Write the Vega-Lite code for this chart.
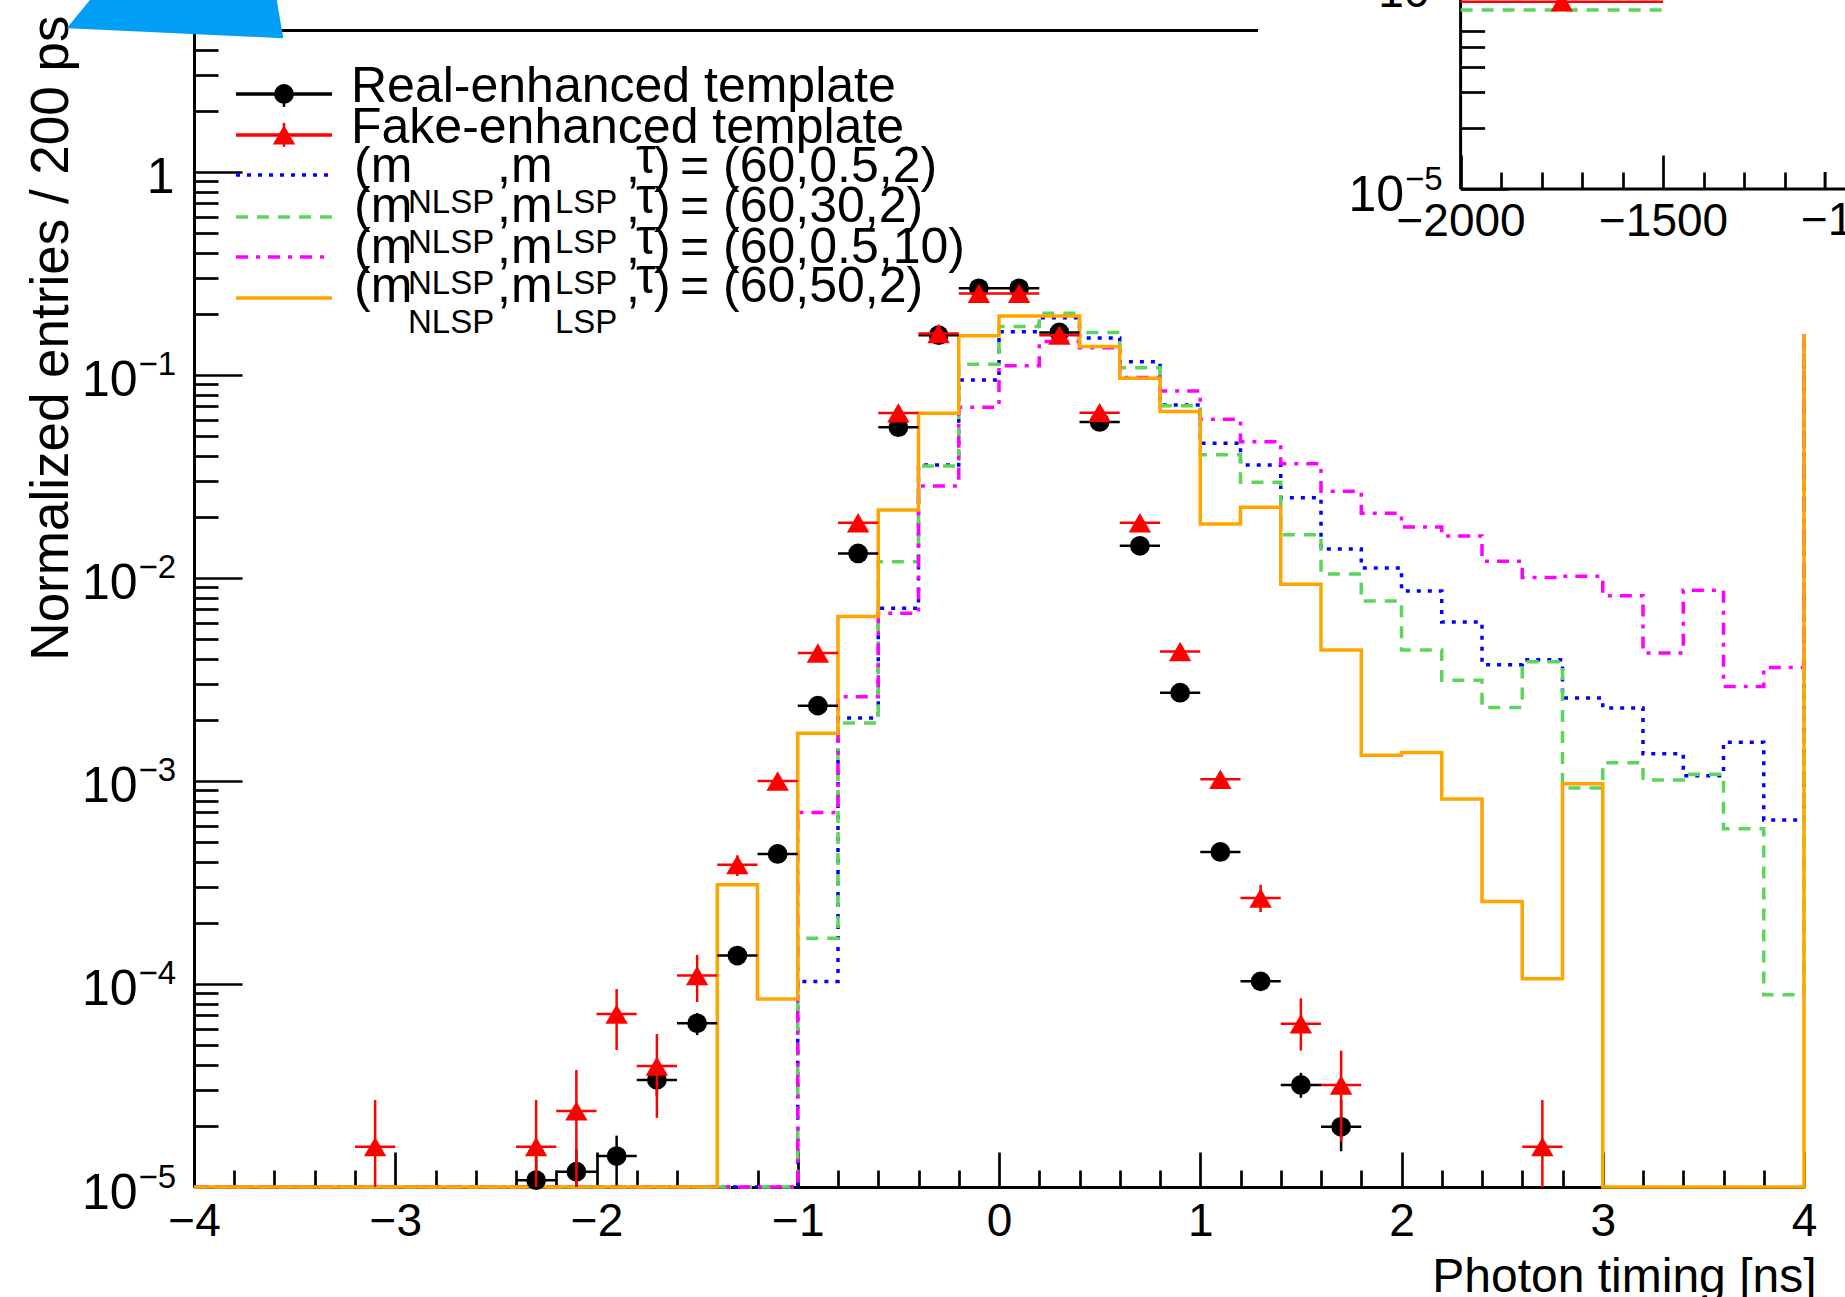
{
 "$schema": "https://vega.github.io/schema/vega-lite/v6.json",
 "width": 1610, "height": 1157,
 "autosize": "none",
 "padding": {"left": 194, "top": 30, "right": 41, "bottom": 110},
 "background": "white",
 "config": {
  "view": {"stroke": null},
  "font": "Liberation Sans",
  "axis": {"grid": false, "labelFont": "Liberation Sans", "titleFont": "Liberation Sans", "labelColor": "black", "titleColor": "black", "tickColor": "black", "domainColor": "black", "titleFontWeight": "normal", "tickWidth": 2.7, "domainWidth": 3, "labelFlush": false, "labelOverlap": false, "labelBound": false, "tickCount": 200}
 },
 "datasets": {
  "hist": [
   {"s":"(60,0.5,2)","x":-4,"v":1e-5},{"s":"(60,0.5,2)","x":-3.8,"v":1e-5},{"s":"(60,0.5,2)","x":-3.6,"v":1e-5},{"s":"(60,0.5,2)","x":-3.4,"v":1e-5},{"s":"(60,0.5,2)","x":-3.2,"v":1e-5},{"s":"(60,0.5,2)","x":-3,"v":1e-5},{"s":"(60,0.5,2)","x":-2.8,"v":1e-5},{"s":"(60,0.5,2)","x":-2.6,"v":1e-5},{"s":"(60,0.5,2)","x":-2.4,"v":1e-5},{"s":"(60,0.5,2)","x":-2.2,"v":1e-5},{"s":"(60,0.5,2)","x":-2,"v":1e-5},{"s":"(60,0.5,2)","x":-1.8,"v":1e-5},{"s":"(60,0.5,2)","x":-1.6,"v":1e-5},{"s":"(60,0.5,2)","x":-1.4,"v":1e-5},{"s":"(60,0.5,2)","x":-1.2,"v":1e-5},
   {"s":"(60,0.5,2)","x":-1,"v":0.000103},{"s":"(60,0.5,2)","x":-0.8,"v":0.00204},{"s":"(60,0.5,2)","x":-0.6,"v":0.0071},{"s":"(60,0.5,2)","x":-0.4,"v":0.036},{"s":"(60,0.5,2)","x":-0.2,"v":0.0945},{"s":"(60,0.5,2)","x":0,"v":0.163},{"s":"(60,0.5,2)","x":0.2,"v":0.191},{"s":"(60,0.5,2)","x":0.4,"v":0.152},{"s":"(60,0.5,2)","x":0.6,"v":0.116},{"s":"(60,0.5,2)","x":0.8,"v":0.0711},{"s":"(60,0.5,2)","x":1,"v":0.0461},{"s":"(60,0.5,2)","x":1.2,"v":0.036},{"s":"(60,0.5,2)","x":1.4,"v":0.0248},{"s":"(60,0.5,2)","x":1.6,"v":0.0139},{"s":"(60,0.5,2)","x":1.8,"v":0.0112},{"s":"(60,0.5,2)","x":2,"v":0.00863},{"s":"(60,0.5,2)","x":2.2,"v":0.00607},{"s":"(60,0.5,2)","x":2.4,"v":0.00374},{"s":"(60,0.5,2)","x":2.6,"v":0.00395},{"s":"(60,0.5,2)","x":2.8,"v":0.00256},{"s":"(60,0.5,2)","x":3,"v":0.00229},{"s":"(60,0.5,2)","x":3.2,"v":0.00136},{"s":"(60,0.5,2)","x":3.4,"v":0.00106},{"s":"(60,0.5,2)","x":3.6,"v":0.00155},{"s":"(60,0.5,2)","x":3.8,"v":0.000643},{"s":"(60,0.5,2)","x":4,"v":0.159},
   {"s":"(60,30,2)","x":-4,"v":1e-5},{"s":"(60,30,2)","x":-3.8,"v":1e-5},{"s":"(60,30,2)","x":-3.6,"v":1e-5},{"s":"(60,30,2)","x":-3.4,"v":1e-5},{"s":"(60,30,2)","x":-3.2,"v":1e-5},{"s":"(60,30,2)","x":-3,"v":1e-5},{"s":"(60,30,2)","x":-2.8,"v":1e-5},{"s":"(60,30,2)","x":-2.6,"v":1e-5},{"s":"(60,30,2)","x":-2.4,"v":1e-5},{"s":"(60,30,2)","x":-2.2,"v":1e-5},{"s":"(60,30,2)","x":-2,"v":1e-5},{"s":"(60,30,2)","x":-1.8,"v":1e-5},{"s":"(60,30,2)","x":-1.6,"v":1e-5},{"s":"(60,30,2)","x":-1.4,"v":1e-5},{"s":"(60,30,2)","x":-1.2,"v":1e-5},
   {"s":"(60,30,2)","x":-1,"v":0.000168},{"s":"(60,30,2)","x":-0.8,"v":0.00193},{"s":"(60,30,2)","x":-0.6,"v":0.012},{"s":"(60,30,2)","x":-0.4,"v":0.0356},{"s":"(60,30,2)","x":-0.2,"v":0.113},{"s":"(60,30,2)","x":0,"v":0.173},{"s":"(60,30,2)","x":0.2,"v":0.201},{"s":"(60,30,2)","x":0.4,"v":0.162},{"s":"(60,30,2)","x":0.6,"v":0.1086},{"s":"(60,30,2)","x":0.8,"v":0.0704},{"s":"(60,30,2)","x":1,"v":0.0404},{"s":"(60,30,2)","x":1.2,"v":0.0296},{"s":"(60,30,2)","x":1.4,"v":0.0163},{"s":"(60,30,2)","x":1.6,"v":0.01047},{"s":"(60,30,2)","x":1.8,"v":0.0077},{"s":"(60,30,2)","x":2,"v":0.00442},{"s":"(60,30,2)","x":2.2,"v":0.00313},{"s":"(60,30,2)","x":2.4,"v":0.0023},{"s":"(60,30,2)","x":2.6,"v":0.00386},{"s":"(60,30,2)","x":2.8,"v":0.000924},{"s":"(60,30,2)","x":3,"v":0.00123},{"s":"(60,30,2)","x":3.2,"v":0.00101},{"s":"(60,30,2)","x":3.4,"v":0.00108},{"s":"(60,30,2)","x":3.6,"v":0.000582},{"s":"(60,30,2)","x":3.8,"v":0.0000886},{"s":"(60,30,2)","x":4,"v":0.159},
   {"s":"(60,0.5,10)","x":-4,"v":1e-5},{"s":"(60,0.5,10)","x":-3.8,"v":1e-5},{"s":"(60,0.5,10)","x":-3.6,"v":1e-5},{"s":"(60,0.5,10)","x":-3.4,"v":1e-5},{"s":"(60,0.5,10)","x":-3.2,"v":1e-5},{"s":"(60,0.5,10)","x":-3,"v":1e-5},{"s":"(60,0.5,10)","x":-2.8,"v":1e-5},{"s":"(60,0.5,10)","x":-2.6,"v":1e-5},{"s":"(60,0.5,10)","x":-2.4,"v":1e-5},{"s":"(60,0.5,10)","x":-2.2,"v":1e-5},{"s":"(60,0.5,10)","x":-2,"v":1e-5},{"s":"(60,0.5,10)","x":-1.8,"v":1e-5},{"s":"(60,0.5,10)","x":-1.6,"v":1e-5},{"s":"(60,0.5,10)","x":-1.4,"v":1e-5},{"s":"(60,0.5,10)","x":-1.2,"v":1e-5},
   {"s":"(60,0.5,10)","x":-1,"v":0.0007},{"s":"(60,0.5,10)","x":-0.8,"v":0.0026},{"s":"(60,0.5,10)","x":-0.6,"v":0.0067},{"s":"(60,0.5,10)","x":-0.4,"v":0.0284},{"s":"(60,0.5,10)","x":-0.2,"v":0.0693},{"s":"(60,0.5,10)","x":0,"v":0.111},{"s":"(60,0.5,10)","x":0.2,"v":0.146},{"s":"(60,0.5,10)","x":0.4,"v":0.136},{"s":"(60,0.5,10)","x":0.6,"v":0.097},{"s":"(60,0.5,10)","x":0.8,"v":0.0834},{"s":"(60,0.5,10)","x":1,"v":0.0605},{"s":"(60,0.5,10)","x":1.2,"v":0.0469},{"s":"(60,0.5,10)","x":1.4,"v":0.0365},{"s":"(60,0.5,10)","x":1.6,"v":0.0267},{"s":"(60,0.5,10)","x":1.8,"v":0.0208},{"s":"(60,0.5,10)","x":2,"v":0.0178},{"s":"(60,0.5,10)","x":2.2,"v":0.0161},{"s":"(60,0.5,10)","x":2.4,"v":0.0121},{"s":"(60,0.5,10)","x":2.6,"v":0.01005},{"s":"(60,0.5,10)","x":2.8,"v":0.0102},{"s":"(60,0.5,10)","x":3,"v":0.00818},{"s":"(60,0.5,10)","x":3.2,"v":0.00427},{"s":"(60,0.5,10)","x":3.4,"v":0.00869},{"s":"(60,0.5,10)","x":3.6,"v":0.00292},{"s":"(60,0.5,10)","x":3.8,"v":0.00362},{"s":"(60,0.5,10)","x":4,"v":0.159},
   {"s":"(60,50,2)","x":-4,"v":1e-5},{"s":"(60,50,2)","x":-3.8,"v":1e-5},{"s":"(60,50,2)","x":-3.6,"v":1e-5},{"s":"(60,50,2)","x":-3.4,"v":1e-5},{"s":"(60,50,2)","x":-3.2,"v":1e-5},{"s":"(60,50,2)","x":-3,"v":1e-5},{"s":"(60,50,2)","x":-2.8,"v":1e-5},{"s":"(60,50,2)","x":-2.6,"v":1e-5},{"s":"(60,50,2)","x":-2.4,"v":1e-5},{"s":"(60,50,2)","x":-2.2,"v":1e-5},{"s":"(60,50,2)","x":-2,"v":1e-5},{"s":"(60,50,2)","x":-1.8,"v":1e-5},{"s":"(60,50,2)","x":-1.6,"v":1e-5},
   {"s":"(60,50,2)","x":-1.4,"v":0.000308},{"s":"(60,50,2)","x":-1.2,"v":0.0000843},{"s":"(60,50,2)","x":-1,"v":0.00172},{"s":"(60,50,2)","x":-0.8,"v":0.00645},{"s":"(60,50,2)","x":-0.6,"v":0.0216},{"s":"(60,50,2)","x":-0.4,"v":0.0648},{"s":"(60,50,2)","x":-0.2,"v":0.156},{"s":"(60,50,2)","x":0,"v":0.195},{"s":"(60,50,2)","x":0.2,"v":0.195},{"s":"(60,50,2)","x":0.4,"v":0.138},{"s":"(60,50,2)","x":0.6,"v":0.0964},{"s":"(60,50,2)","x":0.8,"v":0.066},{"s":"(60,50,2)","x":1,"v":0.01845},{"s":"(60,50,2)","x":1.2,"v":0.0223},{"s":"(60,50,2)","x":1.4,"v":0.00931},{"s":"(60,50,2)","x":1.6,"v":0.00442},{"s":"(60,50,2)","x":1.8,"v":0.00134},{"s":"(60,50,2)","x":2,"v":0.00138},{"s":"(60,50,2)","x":2.2,"v":0.000815},{"s":"(60,50,2)","x":2.4,"v":0.000255},{"s":"(60,50,2)","x":2.6,"v":0.000106},{"s":"(60,50,2)","x":2.8,"v":0.00097},
   {"s":"(60,50,2)","x":3,"v":1e-5},{"s":"(60,50,2)","x":3.2,"v":1e-5},{"s":"(60,50,2)","x":3.4,"v":1e-5},{"s":"(60,50,2)","x":3.6,"v":1e-5},{"s":"(60,50,2)","x":3.8,"v":1e-5},{"s":"(60,50,2)","x":4,"v":0.159}
  ],
  "real": [
   {"t":-2.3,"x0":-2.4,"x1":-2.2,"v":0.0000108,"lo":0.0000075,"hi":0.0000142},
   {"t":-2.1,"x0":-2.2,"x1":-2.0,"v":0.0000119,"lo":0.0000085,"hi":0.0000153},
   {"t":-1.9,"x0":-2.0,"x1":-1.8,"v":0.0000142,"lo":0.0000102,"hi":0.0000179},
   {"t":-1.7,"x0":-1.8,"x1":-1.6,"v":0.0000337,"lo":0.000028,"hi":0.0000395},
   {"t":-1.5,"x0":-1.6,"x1":-1.4,"v":0.000064,"lo":0.000056,"hi":0.000072},
   {"t":-1.3,"x0":-1.4,"x1":-1.2,"v":0.000138,"lo":0.000138,"hi":0.000138},
   {"t":-1.1,"x0":-1.2,"x1":-1.0,"v":0.000437,"lo":0.000437,"hi":0.000437},
   {"t":-0.9,"x0":-1.0,"x1":-0.8,"v":0.00235,"lo":0.00235,"hi":0.00235},
   {"t":-0.7,"x0":-0.8,"x1":-0.6,"v":0.0132,"lo":0.0132,"hi":0.0132},
   {"t":-0.5,"x0":-0.6,"x1":-0.4,"v":0.0553,"lo":0.0553,"hi":0.0553},
   {"t":-0.3,"x0":-0.4,"x1":-0.2,"v":0.157,"lo":0.157,"hi":0.157},
   {"t":-0.1,"x0":-0.2,"x1":0.0,"v":0.267,"lo":0.267,"hi":0.267},
   {"t":0.1,"x0":0.0,"x1":0.2,"v":0.267,"lo":0.267,"hi":0.267},
   {"t":0.3,"x0":0.2,"x1":0.4,"v":0.162,"lo":0.162,"hi":0.162},
   {"t":0.5,"x0":0.4,"x1":0.6,"v":0.0587,"lo":0.0587,"hi":0.0587},
   {"t":0.7,"x0":0.6,"x1":0.8,"v":0.0144,"lo":0.0144,"hi":0.0144},
   {"t":0.9,"x0":0.8,"x1":1.0,"v":0.00272,"lo":0.00272,"hi":0.00272},
   {"t":1.1,"x0":1.0,"x1":1.2,"v":0.000447,"lo":0.000447,"hi":0.000447},
   {"t":1.3,"x0":1.2,"x1":1.4,"v":0.000103,"lo":0.000103,"hi":0.000103},
   {"t":1.5,"x0":1.4,"x1":1.6,"v":0.0000318,"lo":0.0000275,"hi":0.0000365},
   {"t":1.7,"x0":1.6,"x1":1.8,"v":0.0000198,"lo":0.000015,"hi":0.000027}
  ],
  "fake": [
   {"t":-3.1,"x0":-3.2,"x1":-3.0,"v":0.0000158,"lo":0.000005,"hi":0.0000268},
   {"t":-2.3,"x0":-2.4,"x1":-2.2,"v":0.0000158,"lo":0.000005,"hi":0.0000268},
   {"t":-2.1,"x0":-2.2,"x1":-2.0,"v":0.0000237,"lo":0.000009,"hi":0.0000377},
   {"t":-1.9,"x0":-2.0,"x1":-1.8,"v":0.0000711,"lo":0.0000473,"hi":0.0000944},
   {"t":-1.7,"x0":-1.8,"x1":-1.6,"v":0.0000394,"lo":0.0000219,"hi":0.0000567},
   {"t":-1.5,"x0":-1.6,"x1":-1.4,"v":0.00011,"lo":0.0000815,"hi":0.000139},
   {"t":-1.3,"x0":-1.4,"x1":-1.2,"v":0.000387,"lo":0.00034,"hi":0.00043},
   {"t":-1.1,"x0":-1.2,"x1":-1.0,"v":0.001,"lo":0.001,"hi":0.001},
   {"t":-0.9,"x0":-1.0,"x1":-0.8,"v":0.00427,"lo":0.00427,"hi":0.00427},
   {"t":-0.7,"x0":-0.8,"x1":-0.6,"v":0.0187,"lo":0.0187,"hi":0.0187},
   {"t":-0.5,"x0":-0.6,"x1":-0.4,"v":0.065,"lo":0.065,"hi":0.065},
   {"t":-0.3,"x0":-0.4,"x1":-0.2,"v":0.16,"lo":0.16,"hi":0.16},
   {"t":-0.1,"x0":-0.2,"x1":0.0,"v":0.252,"lo":0.252,"hi":0.252},
   {"t":0.1,"x0":0.0,"x1":0.2,"v":0.252,"lo":0.252,"hi":0.252},
   {"t":0.3,"x0":0.2,"x1":0.4,"v":0.157,"lo":0.157,"hi":0.157},
   {"t":0.5,"x0":0.4,"x1":0.6,"v":0.0652,"lo":0.0652,"hi":0.0652},
   {"t":0.7,"x0":0.6,"x1":0.8,"v":0.0187,"lo":0.0187,"hi":0.0187},
   {"t":0.9,"x0":0.8,"x1":1.0,"v":0.00434,"lo":0.00434,"hi":0.00434},
   {"t":1.1,"x0":1.0,"x1":1.2,"v":0.00102,"lo":0.00102,"hi":0.00102},
   {"t":1.3,"x0":1.2,"x1":1.4,"v":0.000265,"lo":0.000226,"hi":0.000308},
   {"t":1.5,"x0":1.4,"x1":1.6,"v":0.0000637,"lo":0.000047,"hi":0.000085},
   {"t":1.7,"x0":1.6,"x1":1.8,"v":0.0000318,"lo":0.0000167,"hi":0.000047},
   {"t":2.7,"x0":2.6,"x1":2.8,"v":0.0000158,"lo":0.000005,"hi":0.0000268}
  ],
  "legsym": [
   {"s":"real","x1":-3.7913,"x2":-3.3143,"y":2.422},
   {"s":"fake","x1":-3.7913,"x2":-3.3143,"y":1.521},
   {"s":"(60,0.5,2)","x1":-3.7913,"x2":-3.3143,"y":0.9666},
   {"s":"(60,30,2)","x1":-3.7913,"x2":-3.3143,"y":0.6},
   {"s":"(60,0.5,10)","x1":-3.7913,"x2":-3.3143,"y":0.3814},
   {"s":"(60,50,2)","x1":-3.7913,"x2":-3.3143,"y":0.2395}
  ],
  "legpt": [
   {"s":"real","x":-3.5528,"y":2.422,"lo":2.09,"hi":2.683},
   {"s":"fake","x":-3.5528,"y":1.521,"lo":1.328,"hi":1.743}
  ],
  "legtxt": [
   {"p":"main","text":"Real-enhanced template","x":-3.22,"y":2.212},
   {"p":"main","text":"Fake-enhanced template","x":-3.22,"y":1.389},
   {"p":"main","text":"(m","x":-3.205,"y":0.893},
   {"p":"main","text":",m","x":-2.4944,"y":0.893},
   {"p":"main","text":",","x":-1.8534,"y":0.893},
   {"p":"main","text":"τ","x":-1.8037,"y":0.9887},
   {"p":"main","text":")","x":-1.7143,"y":0.893},
   {"p":"main","text":"= (60,0.5,2)","x":-1.5851,"y":0.893},
   {"p":"sub","text":"NLSP","x":-2.9366,"y":0.628},
   {"p":"sub","text":"LSP","x":-2.2062,"y":0.628},
   {"p":"main","text":"(m","x":-3.205,"y":0.567},
   {"p":"main","text":",m","x":-2.4944,"y":0.567},
   {"p":"main","text":",","x":-1.8534,"y":0.567},
   {"p":"main","text":"τ","x":-1.8037,"y":0.628},
   {"p":"main","text":")","x":-1.7143,"y":0.567},
   {"p":"main","text":"= (60,30,2)","x":-1.5851,"y":0.567},
   {"p":"sub","text":"NLSP","x":-2.9366,"y":0.399},
   {"p":"sub","text":"LSP","x":-2.2062,"y":0.399},
   {"p":"main","text":"(m","x":-3.205,"y":0.356},
   {"p":"main","text":",m","x":-2.4944,"y":0.356},
   {"p":"main","text":",","x":-1.8534,"y":0.356},
   {"p":"main","text":"τ","x":-1.8037,"y":0.3945},
   {"p":"main","text":")","x":-1.7143,"y":0.356},
   {"p":"main","text":"= (60,0.5,10)","x":-1.5851,"y":0.356},
   {"p":"sub","text":"NLSP","x":-2.9366,"y":0.2506},
   {"p":"sub","text":"LSP","x":-2.2062,"y":0.2506},
   {"p":"main","text":"(m","x":-3.205,"y":0.2288},
   {"p":"main","text":",m","x":-2.4944,"y":0.2288},
   {"p":"main","text":",","x":-1.8534,"y":0.2288},
   {"p":"main","text":"τ","x":-1.8037,"y":0.2535},
   {"p":"main","text":")","x":-1.7143,"y":0.2288},
   {"p":"main","text":"= (60,50,2)","x":-1.5851,"y":0.2288},
   {"p":"sub","text":"NLSP","x":-2.9366,"y":0.161},
   {"p":"sub","text":"LSP","x":-2.2062,"y":0.161}
  ],
  "shape": [
   {"x":-4.6325,"y":5.105,"y2":5.105},
   {"x":-4.5168,"y":7.036,"y2":5.04},
   {"x":-3.5891,"y":7.036,"y2":4.572},
   {"x":-3.5563,"y":4.556,"y2":4.556}
  ],
  "ipad": [{"x":-2500,"x2":-900,"y":0.0000045,"y2":0.001}],
  "iaxis": [
   {"x":-2000,"x2":-2000,"y":0.00001,"y2":0.001},
   {"x":-2000,"x2":-900,"y":0.00001,"y2":0.00001},
   {"x":-1100,"x2":-1100,"y":0.00001,"y2":0.00001213}
  ],
  "itxt": [
   {"text":"−1000","x":-1000,"y":0.000005935,"a":"center"},
   {"text":"10","x":-2140,"y":0.0000788,"a":"right"}
  ],
  "ihist": [
   {"x":-2000,"v":0.0000762},{"x":-1500,"v":0.0000762}
  ],
  "ifake": [{"t":-1750,"x0":-2000,"x1":-1500,"v":0.0000837}]
 },
 "resolve": {"scale": {"x": "independent", "y": "independent"}},
 "layer": [
  {
   "resolve": {"axis": {"x": "independent", "y": "independent"}},
   "layer": [
    {
     "data": {"name": "hist"},
     "mark": {"type": "line", "interpolate": "step-after", "strokeWidth": 3.5},
     "encoding": {
      "x": {"field": "x", "type": "quantitative", "scale": {"domain": [-4, 4], "nice": false, "zero": false},
       "axis": {"orient": "bottom", "tickCount": 200,
        "values": [-4,-3.8,-3.6,-3.4,-3.2,-3,-2.8,-2.6,-2.4,-2.2,-2,-1.8,-1.6,-1.4,-1.2,-1,-0.8,-0.6,-0.4,-0.2,0,0.2,0.4,0.6,0.8,1,1.2,1.4,1.6,1.8,2,2.2,2.4,2.6,2.8,3,3.2,3.4,3.6,3.8,4],
        "tickSize": {"condition": {"test": "abs(datum.value - round(datum.value)) < 0.01", "value": -35}, "value": -17},
        "labelExpr": "abs(datum.value - round(datum.value)) < 0.01 ? format(datum.value, 'd') : ''",
        "labelFontSize": 46, "labelBaseline": "alphabetic", "labelPadding": 83,
        "title": "Photon timing [ns]", "titleFontSize": 48, "titleAnchor": "end", "titleAlign": "right", "titleBaseline": "alphabetic", "titleX": 1622, "titleY": 104}},
      "y": {"field": "v", "type": "quantitative", "scale": {"type": "log", "domain": [0.00001, 5], "nice": false},
       "axis": {"orient": "left", "tickCount": 200,
        "values": [0.00001,0.00002,0.00003,0.00004,0.00005,0.00006,0.00007,0.00008,0.00009,0.0001,0.0002,0.0003,0.0004,0.0005,0.0006,0.0007,0.0008,0.0009,0.001,0.002,0.003,0.004,0.005,0.006,0.007,0.008,0.009,0.01,0.02,0.03,0.04,0.05,0.06,0.07,0.08,0.09,0.1,0.2,0.3,0.4,0.5,0.6,0.7,0.8,0.9,1,2,3,4],
        "tickSize": {"condition": {"test": "abs(log(datum.value)/LN10 - round(log(datum.value)/LN10)) < 0.01", "value": -48}, "value": -24},
        "labelExpr": "abs(log(datum.value)/LN10 - round(log(datum.value)/LN10)) < 0.01 ? (datum.value > 0.5 ? '1' : '10') : ''",
        "labelFontSize": 50, "labelBaseline": "alphabetic", "labelAlign": "right", "labelOffset": 21,
        "labelPadding": {"condition": {"test": "datum.value > 0.5", "value": 68}, "value": 105},
        "title": "Normalized entries / 200 ps", "titleFontSize": 53, "titleAngle": 270, "titleAlign": "right", "titleBaseline": "alphabetic", "titleX": -127, "titleY": -15}},
      "color": {"field": "s", "type": "nominal", "scale": {"domain": ["(60,0.5,2)","(60,30,2)","(60,0.5,10)","(60,50,2)","real","fake"], "range": ["#0000ff","#5ad65a","#ff00ff","#ffa500","#000000","#ff0000"]}, "legend": null},
      "strokeDash": {"field": "s", "type": "nominal", "scale": {"domain": ["(60,0.5,2)","(60,30,2)","(60,0.5,10)","(60,50,2)","real","fake"], "range": [[4,7],[12,9],[12,8,4,8],[1,0],[1,0],[1,0]]}, "legend": null}
     }
    },
    {
     "data": {"name": "real"},
     "mark": {"type": "rule", "color": "black", "strokeWidth": 2.5},
     "encoding": {
      "x": {"field": "x0", "type": "quantitative", "scale": {"domain": [-4, 4], "nice": false, "zero": false}, "axis": null},
      "x2": {"field": "x1"},
      "y": {"field": "v", "type": "quantitative", "scale": {"type": "log", "domain": [0.00001, 5], "nice": false}, "axis": null}
     }
    },
    {
     "data": {"name": "real"},
     "mark": {"type": "rule", "color": "black", "strokeWidth": 2.5, "clip": true},
     "encoding": {
      "x": {"field": "t", "type": "quantitative", "scale": {"domain": [-4, 4], "nice": false, "zero": false}, "axis": null},
      "y": {"field": "lo", "type": "quantitative", "scale": {"type": "log", "domain": [0.00001, 5], "nice": false}, "axis": null},
      "y2": {"field": "hi"}
     }
    },
    {
     "data": {"name": "real"},
     "mark": {"type": "point", "shape": "circle", "filled": true, "size": 390, "color": "black", "opacity": 1},
     "encoding": {
      "x": {"field": "t", "type": "quantitative", "scale": {"domain": [-4, 4], "nice": false, "zero": false},
       "axis": {"orient": "top", "ticks": false, "labels": false, "domain": true, "title": null}},
      "y": {"field": "v", "type": "quantitative", "scale": {"type": "log", "domain": [0.00001, 5], "nice": false},
       "axis": {"orient": "left", "values": [0.00001, 0.0001, 0.001, 0.01, 0.1], "ticks": false, "domain": false,
        "labelExpr": "'−' + format(-log(datum.value)/LN10, '.0f')",
        "labelFontSize": 33, "labelBaseline": "alphabetic", "labelAlign": "left", "labelPadding": 56, "title": null}}
     }
    },
    {
     "data": {"name": "fake"},
     "mark": {"type": "rule", "color": "#ff0000", "strokeWidth": 2.5},
     "encoding": {
      "x": {"field": "x0", "type": "quantitative", "scale": {"domain": [-4, 4], "nice": false, "zero": false}, "axis": null},
      "x2": {"field": "x1"},
      "y": {"field": "v", "type": "quantitative", "scale": {"type": "log", "domain": [0.00001, 5], "nice": false}, "axis": null}
     }
    },
    {
     "data": {"name": "fake"},
     "mark": {"type": "rule", "color": "#ff0000", "strokeWidth": 2.5, "clip": true},
     "encoding": {
      "x": {"field": "t", "type": "quantitative", "scale": {"domain": [-4, 4], "nice": false, "zero": false}, "axis": null},
      "y": {"field": "lo", "type": "quantitative", "scale": {"type": "log", "domain": [0.00001, 5], "nice": false}, "axis": null},
      "y2": {"field": "hi"}
     }
    },
    {
     "data": {"name": "fake"},
     "mark": {"type": "point", "shape": "triangle-up", "filled": true, "size": 500, "color": "#ff0000", "opacity": 1},
     "encoding": {
      "x": {"field": "t", "type": "quantitative", "scale": {"domain": [-4, 4], "nice": false, "zero": false}, "axis": null},
      "y": {"field": "v", "type": "quantitative", "scale": {"type": "log", "domain": [0.00001, 5], "nice": false}, "axis": null}
     }
    },
    {
     "data": {"name": "legsym"},
     "mark": {"type": "rule", "strokeWidth": 3.5},
     "encoding": {
      "x": {"field": "x1", "type": "quantitative", "scale": {"domain": [-4, 4], "nice": false, "zero": false}, "axis": null},
      "x2": {"field": "x2"},
      "y": {"field": "y", "type": "quantitative", "scale": {"type": "log", "domain": [0.00001, 5], "nice": false}, "axis": null},
      "color": {"field": "s", "type": "nominal", "scale": {"domain": ["(60,0.5,2)","(60,30,2)","(60,0.5,10)","(60,50,2)","real","fake"], "range": ["#0000ff","#5ad65a","#ff00ff","#ffa500","#000000","#ff0000"]}, "legend": null},
      "strokeDash": {"field": "s", "type": "nominal", "scale": {"domain": ["(60,0.5,2)","(60,30,2)","(60,0.5,10)","(60,50,2)","real","fake"], "range": [[4,7],[12,9],[12,8,4,8],[1,0],[1,0],[1,0]]}, "legend": null}
     }
    },
    {
     "data": {"name": "legpt"},
     "mark": {"type": "rule", "strokeWidth": 2.5},
     "encoding": {
      "x": {"field": "x", "type": "quantitative", "scale": {"domain": [-4, 4], "nice": false, "zero": false}, "axis": null},
      "y": {"field": "lo", "type": "quantitative", "scale": {"type": "log", "domain": [0.00001, 5], "nice": false}, "axis": null},
      "y2": {"field": "hi"},
      "color": {"field": "s", "type": "nominal", "scale": {"domain": ["(60,0.5,2)","(60,30,2)","(60,0.5,10)","(60,50,2)","real","fake"], "range": ["#0000ff","#5ad65a","#ff00ff","#ffa500","#000000","#ff0000"]}, "legend": null}
     }
    },
    {
     "data": {"name": "legpt"},
     "transform": [{"filter": "datum.s == 'real'"}],
     "mark": {"type": "point", "shape": "circle", "filled": true, "size": 390, "color": "black", "opacity": 1},
     "encoding": {
      "x": {"field": "x", "type": "quantitative", "scale": {"domain": [-4, 4], "nice": false, "zero": false}, "axis": null},
      "y": {"field": "y", "type": "quantitative", "scale": {"type": "log", "domain": [0.00001, 5], "nice": false}, "axis": null}
     }
    },
    {
     "data": {"name": "legpt"},
     "transform": [{"filter": "datum.s == 'fake'"}],
     "mark": {"type": "point", "shape": "triangle-up", "filled": true, "size": 500, "color": "#ff0000", "opacity": 1},
     "encoding": {
      "x": {"field": "x", "type": "quantitative", "scale": {"domain": [-4, 4], "nice": false, "zero": false}, "axis": null},
      "y": {"field": "y", "type": "quantitative", "scale": {"type": "log", "domain": [0.00001, 5], "nice": false}, "axis": null}
     }
    },
    {
     "data": {"name": "legtxt"},
     "transform": [{"filter": "datum.p == 'main'"}],
     "mark": {"type": "text", "align": "left", "baseline": "alphabetic", "fontSize": 50, "font": "Liberation Sans", "color": "black"},
     "encoding": {
      "x": {"field": "x", "type": "quantitative", "scale": {"domain": [-4, 4], "nice": false, "zero": false}, "axis": null},
      "y": {"field": "y", "type": "quantitative", "scale": {"type": "log", "domain": [0.00001, 5], "nice": false}, "axis": null},
      "text": {"field": "text"}
     }
    },
    {
     "data": {"name": "legtxt"},
     "transform": [{"filter": "datum.p == 'sub'"}],
     "mark": {"type": "text", "align": "left", "baseline": "alphabetic", "fontSize": 33, "font": "Liberation Sans", "color": "black"},
     "encoding": {
      "x": {"field": "x", "type": "quantitative", "scale": {"domain": [-4, 4], "nice": false, "zero": false}, "axis": null},
      "y": {"field": "y", "type": "quantitative", "scale": {"type": "log", "domain": [0.00001, 5], "nice": false}, "axis": null},
      "text": {"field": "text"}
     }
    },
    {
     "data": {"name": "shape"},
     "mark": {"type": "area", "color": "#009ff5", "opacity": 1},
     "encoding": {
      "x": {"field": "x", "type": "quantitative", "scale": {"domain": [-4, 4], "nice": false, "zero": false}, "axis": null},
      "y": {"field": "y", "type": "quantitative", "scale": {"type": "log", "domain": [0.00001, 5], "nice": false}, "axis": null},
      "y2": {"field": "y2"}
     }
    }
   ]
  },
  {
   "resolve": {"axis": {"x": "independent", "y": "independent"}},
   "layer": [
    {
     "data": {"name": "ipad"},
     "mark": {"type": "rect", "fill": "white"},
     "encoding": {
      "x": {"field": "x", "type": "quantitative", "scale": {"domain": [-5127.4, -1152.1], "nice": false, "zero": false},
       "axis": {"orient": "bottom", "offset": -998, "domain": false, "zindex": 1, "tickCount": 200,
        "values": [-2000,-1900,-1800,-1700,-1600,-1500,-1400,-1300,-1200,-1100,-1000],
        "tickSize": {"condition": {"test": "abs(datum.value/500 - round(datum.value/500)) < 0.01", "value": -34}, "value": -17},
        "labelExpr": "abs(datum.value/500 - round(datum.value/500)) < 0.01 ? format(datum.value, 'd') : ''",
        "labelFontSize": 46, "labelBaseline": "alphabetic", "labelPadding": 80, "title": null}},
      "x2": {"field": "x2"},
      "y": {"field": "y", "type": "quantitative", "scale": {"type": "log", "domain": [1.213e-10, 0.00006072], "nice": false},
       "axis": {"orient": "left", "offset": -1266.6, "domain": false, "zindex": 1, "tickCount": 200,
        "values": [0.00001,0.00002,0.00003,0.00004,0.00005,0.00006,0.00007,0.00008,0.00009,0.0001],
        "tickSize": {"condition": {"test": "abs(log(datum.value)/LN10 - round(log(datum.value)/LN10)) < 0.01", "value": -48}, "value": -24},
        "labelExpr": "abs(log(datum.value)/LN10 - round(log(datum.value)/LN10)) < 0.01 ? '10' : ''",
        "labelFontSize": 50, "labelBaseline": "alphabetic", "labelAlign": "right", "labelOffset": 21, "labelPadding": 105, "title": null}},
      "y2": {"field": "y2"}
     }
    },
    {
     "data": {"name": "iaxis"},
     "mark": {"type": "rule", "color": "black", "strokeWidth": 3},
     "encoding": {
      "x": {"field": "x", "type": "quantitative", "scale": {"domain": [-5127.4, -1152.1], "nice": false, "zero": false}, "axis": null},
      "x2": {"field": "x2"},
      "y": {"field": "y", "type": "quantitative", "scale": {"type": "log", "domain": [1.213e-10, 0.00006072], "nice": false},
       "axis": {"orient": "left", "offset": -1266.6, "ticks": false, "domain": false, "zindex": 1,
        "values": [0.00001, 0.0001],
        "labelExpr": "'−' + format(-log(datum.value)/LN10, '.0f')",
        "labelFontSize": 33, "labelBaseline": "alphabetic", "labelAlign": "left", "labelPadding": 56, "title": null}},
      "y2": {"field": "y2"}
     }
    },
    {
     "data": {"name": "itxt"},
     "mark": {"type": "text", "baseline": "alphabetic", "fontSize": 46, "font": "Liberation Sans", "color": "black"},
     "encoding": {
      "x": {"field": "x", "type": "quantitative", "scale": {"domain": [-5127.4, -1152.1], "nice": false, "zero": false}, "axis": null},
      "y": {"field": "y", "type": "quantitative", "scale": {"type": "log", "domain": [1.213e-10, 0.00006072], "nice": false}, "axis": null},
      "text": {"field": "text"},
      "align": {"field": "a", "type": "nominal", "scale": null}
     }
    },
    {
     "data": {"name": "ihist"},
     "mark": {"type": "line", "strokeWidth": 3.5, "color": "#5ad65a", "strokeDash": [12, 9]},
     "encoding": {
      "x": {"field": "x", "type": "quantitative", "scale": {"domain": [-5127.4, -1152.1], "nice": false, "zero": false}, "axis": null},
      "y": {"field": "v", "type": "quantitative", "scale": {"type": "log", "domain": [1.213e-10, 0.00006072], "nice": false}, "axis": null}
     }
    },
    {
     "data": {"name": "ifake"},
     "mark": {"type": "rule", "color": "#ff0000", "strokeWidth": 2.5},
     "encoding": {
      "x": {"field": "x0", "type": "quantitative", "scale": {"domain": [-5127.4, -1152.1], "nice": false, "zero": false}, "axis": null},
      "x2": {"field": "x1"},
      "y": {"field": "v", "type": "quantitative", "scale": {"type": "log", "domain": [1.213e-10, 0.00006072], "nice": false}, "axis": null}
     }
    },
    {
     "data": {"name": "ifake"},
     "mark": {"type": "point", "shape": "triangle-up", "filled": true, "size": 500, "color": "#ff0000", "opacity": 1},
     "encoding": {
      "x": {"field": "t", "type": "quantitative", "scale": {"domain": [-5127.4, -1152.1], "nice": false, "zero": false}, "axis": null},
      "y": {"field": "v", "type": "quantitative", "scale": {"type": "log", "domain": [1.213e-10, 0.00006072], "nice": false}, "axis": null}
     }
    }
   ]
  }
 ]
}
